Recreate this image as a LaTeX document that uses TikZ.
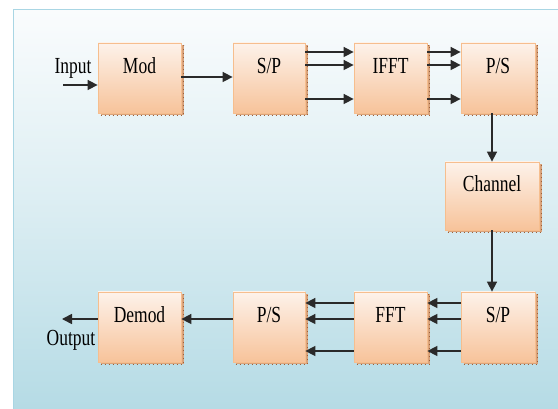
\documentclass[tikz,border=0pt]{standalone}
\usepackage{fontspec}
\setmainfont[FakeStretch=0.76]{Liberation Serif}
\usetikzlibrary{arrows.meta,shadows}
\definecolor{panelTop}{HTML}{FAFCFD}
\definecolor{panelBot}{HTML}{B5DBE5}
\definecolor{panelEdge}{HTML}{A9D6E4}
\definecolor{boxTop}{HTML}{FDF2EA}
\definecolor{boxBot}{HTML}{F7C39A}
\definecolor{boxEdge}{HTML}{F6BE8E}
\definecolor{shBrown}{HTML}{D9A27A}
\definecolor{shDark}{HTML}{9C6038}
\definecolor{lineC}{HTML}{2A2A2A}
\tikzset{
  blk/.style={rectangle, inner sep=0pt, draw=boxEdge, line width=0.8pt,
    top color=boxTop, bottom color=boxBot,
    text height=10pt, text depth=18pt,
    font=\fontsize{23}{26}\selectfont,
    drop shadow={shadow xshift=2.5pt, shadow yshift=-2.5pt, opacity=1,
      fill=shBrown, draw=shDark, dash pattern=on 1pt off 3pt, line width=0.8pt}},
  arr/.style={draw=lineC, line width=1.6pt, -{Triangle[length=10pt,width=10pt]}},
  lbl/.style={font=\fontsize{23}{26}\selectfont, inner sep=0pt, anchor=base}
}
\begin{document}
\begin{tikzpicture}[x=1pt,y=-1pt]
\fill[white] (0,0) rectangle (558,409);
\useasboundingbox (0,0) rectangle (558,409);
\shade[top color=panelTop, bottom color=panelBot, middle color=panelBot!45!panelTop] (13,10) rectangle (558,409);
\draw[panelEdge, line width=1pt] (13,409) -- (13,10) -- (558,10);
% top row
\node[blk, minimum width=83pt, minimum height=70pt] (mod) at (139.5,78) {Mod};
\node[blk, minimum width=72pt, minimum height=70pt] (sp1) at (269,78) {S/P};
\node[blk, minimum width=73pt, minimum height=70pt] (ifft) at (390.5,78) {IFFT};
\node[blk, minimum width=74pt, minimum height=70pt] (ps1) at (498,78) {P/S};
% channel
\node[blk, minimum width=94pt, minimum height=68pt] (ch) at (492,196) {Channel};
% bottom row
\node[blk, minimum width=74pt, minimum height=70pt] (sp2) at (498,327) {S/P};
\node[blk, minimum width=73pt, minimum height=70pt] (fft) at (390.5,327) {FFT};
\node[blk, minimum width=72pt, minimum height=70pt] (ps2) at (269,327) {P/S};
\node[blk, minimum width=83pt, minimum height=70pt] (demod) at (139.5,327) {Demod};
% labels and free ends
\node[lbl] (inp) at (73,74) {Input};
\node[lbl] (outp) at (71,346) {Output};
\coordinate (inS) at (63,85);
\coordinate (outE) at (62,319);
% arrows top
\draw[arr] (inS) -- (inS -| mod.west);
\draw[arr] (mod.east |- 0,77) -- (sp1.west |- 0,77);
\foreach \yy in {52,65,99}{
  \draw[arr] (sp1.east |- 0,\yy) -- (ifft.west |- 0,\yy);
  \draw[arr] (ifft.east |- 0,\yy) -- (ps1.west |- 0,\yy);
}
% vertical
\draw[arr] (ps1.south -| ch.north) -- (ch.north);
\draw[arr] (ch.south) -- (sp2.north -| ch.south);
% bottom arrows
\foreach \yy in {303,319,351}{
  \draw[arr] (sp2.west |- 0,\yy) -- (fft.east |- 0,\yy);
  \draw[arr] (fft.west |- 0,\yy) -- (ps2.east |- 0,\yy);
}
\draw[arr] (ps2.west |- 0,319) -- (demod.east |- 0,319);
\draw[arr] (demod.west |- outE) -- (outE);
\end{tikzpicture}
\end{document}
